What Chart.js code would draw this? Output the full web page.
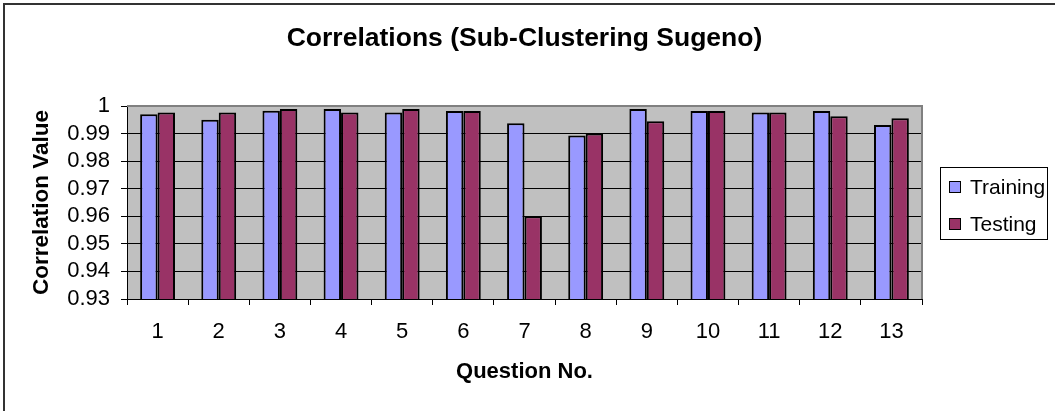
<!DOCTYPE html>
<html><head><meta charset="utf-8">
<script src="https://cdn.jsdelivr.net/npm/chart.js@4.4.0/dist/chart.umd.min.js"></script>
<style>html,body{margin:0;padding:0;background:#fff;overflow:hidden}canvas{display:block}</style>
</head><body>
<canvas id="c" width="1055" height="411"></canvas>
<script>
const categories = ['1','2','3','4','5','6','7','8','9','10','11','12','13'];
const trainingValues = [0.997, 0.995, 0.9983, 0.9989, 0.9976, 0.9982, 0.9937, 0.9893, 0.9989, 0.9982, 0.9976, 0.9982, 0.9931];
const testingValues = [0.9976, 0.9976, 0.9989, 0.9976, 0.9989, 0.9982, 0.96, 0.99, 0.9945, 0.9982, 0.9976, 0.9963, 0.9956];
const yTickValues = [0.93, 0.94, 0.95, 0.96, 0.97, 0.98, 0.99, 1];
const seriesNames = ['Training', 'Testing'];
const chartTitle = 'Correlations (Sub-Clustering Sugeno)';
const yAxisTitle = 'Correlation Value';
const xAxisTitle = 'Question No.';

const FONT = 'Arial, "Liberation Sans", sans-serif';
const seriesColors = ['#9999FF', '#993366'];

const decor = {
  id: 'decor',
  beforeDraw(chart) {
    const {ctx, chartArea: a} = chart;
    ctx.save();
    ctx.fillStyle = '#fff';
    ctx.fillRect(0, 0, chart.width, chart.height);
    ctx.fillStyle = '#C0C0C0';
    ctx.fillRect(a.left, a.top, a.right - a.left, a.bottom - a.top);
    ctx.strokeStyle = '#333';
    ctx.lineWidth = 2;
    ctx.beginPath();
    ctx.moveTo(4, chart.height + 5);
    ctx.lineTo(4, 4);
    ctx.lineTo(chart.width + 5, 4);
    ctx.stroke();
    ctx.restore();
  },
  afterDraw(chart) {
    const {ctx, chartArea: a} = chart;
    ctx.save();
    ctx.strokeStyle = '#808080';
    ctx.lineWidth = 2;
    ctx.beginPath();
    ctx.moveTo(a.left, a.top);
    ctx.lineTo(a.right, a.top);
    ctx.lineTo(a.right, a.bottom);
    ctx.stroke();
    ctx.fillStyle = '#000';
    ctx.font = 'bold 26.5px ' + FONT;
    ctx.textAlign = 'center';
    ctx.textBaseline = 'middle';
    ctx.fillText(chartTitle, (a.left + a.right) / 2, 39);
    ctx.lineWidth = 1;
    ctx.strokeStyle = '#000';
    ctx.strokeRect(940.5, 167.5, 107, 72);
    ctx.font = '21px ' + FONT;
    ctx.textAlign = 'left';
    chart.data.datasets.forEach((ds, i) => {
      const y = 181 + i * 37;
      ctx.fillStyle = ds.backgroundColor;
      ctx.fillRect(949, y, 12, 12);
      ctx.strokeRect(949.5, y + 0.5, 11, 11);
      ctx.fillStyle = '#000';
      ctx.fillText(ds.label, 970, y + 7);
    });
    ctx.restore();
  }
};

new Chart(document.getElementById('c'), {
  type: 'bar',
  data: {
    labels: categories,
    datasets: [
      {label: seriesNames[0], data: trainingValues, backgroundColor: seriesColors[0], borderColor: '#000', borderWidth: 2, borderSkipped: false},
      {label: seriesNames[1], data: testingValues, backgroundColor: seriesColors[1], borderColor: '#000', borderWidth: 2, borderSkipped: false}
    ]
  },
  options: {
    responsive: false,
    animation: false,
    devicePixelRatio: 1,
    layout: {padding: {left: 0, right: 133, top: 106, bottom: 0}},
    plugins: {legend: {display: false}, title: {display: false}, tooltip: {enabled: false}},
    datasets: {bar: {categoryPercentage: 0.57, barPercentage: 1}},
    scales: {
      x: {
        grid: {drawOnChartArea: false, tickLength: 6, color: '#000', offset: true},
        border: {display: true, color: '#000', width: 1},
        ticks: {color: '#000', font: {family: FONT, size: 22}, padding: 14, maxRotation: 0, autoSkip: false},
        title: {display: true, text: xAxisTitle, color: '#000', font: {family: FONT, size: 22, weight: 'bold'}, padding: {top: 0, bottom: 26}},
        afterFit(s) { s.height = 112; }
      },
      y: {
        min: 0.93, max: 1,
        afterBuildTicks(s) { s.ticks = yTickValues.map(v => ({value: v})); },
        grid: {color: ctx => (ctx.tick && ctx.tick.value === 1 ? '#808080' : '#000'), tickColor: '#000', tickLength: 6, lineWidth: 1},
        border: {display: true, color: '#000', width: 1},
        ticks: {color: '#000', font: {family: FONT, size: 22}, padding: 11, autoSkip: false, callback: v => String(Number(v.toFixed(2)))},
        title: {display: true, text: yAxisTitle, color: '#000', font: {family: FONT, size: 22.5, weight: 'bold'}, padding: {top: 28.5, bottom: 0}},
        afterFit(s) { s.width = 127; }
      }
    }
  },
  plugins: [decor]
});
</script>
</body></html>
